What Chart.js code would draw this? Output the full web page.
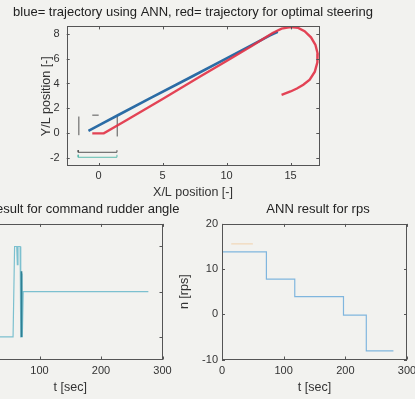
<!DOCTYPE html>
<html>
<head>
<meta charset="utf-8">
<script src="https://cdn.jsdelivr.net/npm/chart.js@4/dist/chart.umd.min.js"></script>
<style>
  html, body { margin: 0; padding: 0; }
  body { width: 415px; height: 399px; overflow: hidden; position: relative; background: #f2f2ef; }
  canvas { position: absolute; }
</style>
</head>
<body>
<canvas id="traj" width="386" height="200" style="left:0;top:0"></canvas>
<canvas id="rudder" width="280" height="204" style="left:-70px;top:195px"></canvas>
<canvas id="rps" width="296" height="204" style="left:170px;top:195px"></canvas>
<script>
// ---- trajectory (X/L, Y/L) ----
const annX = [-0.8, 0.3, 1.5, 4.0, 7.0, 10.0, 12.0, 13.4, 14.0];
const annY = [0.2, 0.8, 1.45, 2.8, 4.4, 6.02, 7.1, 7.86, 8.15];

const optX = [-0.5, 0.4, 2.0, 5.0, 8.0, 10.0, 12.0, 13.6, 14.3, 15.0, 15.6, 16.1, 16.6, 16.95, 17.12, 17.1, 16.9, 16.5, 16.0, 15.5, 15.0, 14.6, 14.3];
const optY = [0.0, 0.0, 0.95, 2.75, 4.6, 5.8, 7.02, 8.05, 8.4, 8.52, 8.46, 8.2, 7.7, 7.1, 6.4, 5.7, 4.95, 4.3, 3.9, 3.6, 3.36, 3.2, 3.08];

// start-area guide marks
const guideLeft   = [[-1.55, -0.15], [-1.55, 1.35]];
const guideRight  = [[1.45, -0.25], [1.45, 1.46]];
const guideDash   = [[-0.5, 1.46], [0.0, 1.46]];
const bracketDark = [[-1.6, -1.35], [-1.6, -1.52], [1.43, -1.52], [1.43, -1.35]];
const bracketTeal = [[-1.6, -1.72], [-1.6, -1.92], [1.43, -1.92], [1.43, -1.72]];

const trajXTicks = [0, 5, 10, 15];
const trajYTicks = [-2, 0, 2, 4, 6, 8];

// ---- command rudder angle ----
const rudderT   = [0, 57, 59.5, 63, 64, 65, 68.5, 69.5, 71, 71.5, 72, 73.5, 277];
const rudderDeg = [-20, -20, 20, 20, 12, 20, 20, -20, -20, 8, -20, 0, 0];
const rudderDarkT   = [70.6, 70.8];
const rudderDarkDeg = [9, -20];
const rudderXTicks = [0, 100, 200, 300];
const rudderYTicks = [-20, 0, 20];

// ---- propeller revolutions ----
const rpsT = [0, 72, 72, 118, 118, 197, 197, 234, 234, 278];
const rpsN = [13.8, 13.8, 7.8, 7.8, 3.9, 3.9, -0.2, -0.2, -8.1, -8.1];
const rpsOptT = [15, 50];
const rpsOptN = [15.6, 15.6];
const rpsXTicks = [0, 100, 200, 300];
const rpsYTicks = [-10, 0, 10, 20];

const FONT = "'Liberation Sans', Arial, sans-serif";
Chart.defaults.font.family = FONT;
Chart.defaults.color = '#333';

function series(xs, ys, color, width, order) {
  return { data: xs.map((x, i) => ({ x, y: ys[i] })), borderColor: color, borderWidth: width,
           pointRadius: 0, fill: false, tension: 0, order };
}
function pairs(pts, color, width, order) {
  return { data: pts.map(p => ({ x: p[0], y: p[1] })), borderColor: color, borderWidth: width,
           pointRadius: 0, fill: false, tension: 0, order };
}

function axis({ min, max, ticks, size, tickPad, title, titlePad }) {
  return {
    type: 'linear', min, max,
    afterBuildTicks: s => { s.ticks = ticks.map(v => ({ value: v })); },
    afterFit: s => {
      if (s.isHorizontal()) s.height = size; else s.width = size;
      s.paddingLeft = 0; s.paddingRight = 0; s.paddingTop = 0; s.paddingBottom = 0;
    },
    grid: { display: false, drawTicks: false },
    border: { display: false },
    ticks: { padding: tickPad, font: { size: 11 }, color: '#333', maxRotation: 0, autoSkip: false },
    title: title ? { display: true, text: title, font: { size: 12.5 }, color: '#333', padding: titlePad } : { display: false }
  };
}

// empty right-hand margin so the full-width title centres over the plot
function rightMargin(width) {
  return {
    type: 'linear', position: 'right', display: true,
    grid: { display: false, drawTicks: false }, border: { display: false },
    ticks: { display: false },
    afterFit: s => { s.width = width; s.paddingTop = 0; s.paddingBottom = 0; }
  };
}

// box frame with inward tick marks on all four sides
const frame = {
  id: 'frame',
  afterDatasetsDraw(chart) {
    const { ctx, chartArea: a, scales: { x, y } } = chart;
    const L = 3;
    ctx.save();
    ctx.strokeStyle = '#555';
    ctx.lineWidth = 1;
    ctx.strokeRect(Math.round(a.left) + 0.5, Math.round(a.top) + 0.5, Math.round(a.width) - 1, Math.round(a.height) - 1);
    ctx.beginPath();
    x.ticks.forEach(t => {
      const px = Math.round(x.getPixelForValue(t.value)) + 0.5;
      ctx.moveTo(px, a.bottom); ctx.lineTo(px, a.bottom - L);
      ctx.moveTo(px, a.top); ctx.lineTo(px, a.top + L);
    });
    y.ticks.forEach(t => {
      const py = Math.round(y.getPixelForValue(t.value)) + 0.5;
      ctx.moveTo(a.left, py); ctx.lineTo(a.left + L, py);
      ctx.moveTo(a.right, py); ctx.lineTo(a.right - L, py);
    });
    ctx.stroke();
    ctx.restore();
  }
};

function titleOpts(text, top, bottom) {
  return { display: true, text, color: '#222',
           font: { size: 13, weight: 'normal' }, padding: { top, bottom } };
}

const common = { responsive: false, animation: false, devicePixelRatio: 1, events: [] };

new Chart(document.getElementById('traj'), {
  type: 'line',
  data: { datasets: [
    series(optX, optY, 'rgba(226,52,72,0.92)', 2.4, 0),
    series(annX, annY, '#2b6ca5', 2.6, 1),
    pairs(guideLeft, '#555', 1, 2),
    pairs(guideRight, '#555', 1, 2),
    pairs(guideDash, '#555', 1, 2),
    pairs(bracketDark, '#555', 1, 2),
    pairs(bracketTeal, '#5bbcae', 1, 2)
  ] },
  options: Object.assign({}, common, {
    layout: { padding: 0 },
    scales: {
      x: axis({ min: -2.5, max: 17.25, ticks: trajXTicks, size: 34, tickPad: 3,
                title: 'X/L position [-]', titlePad: { top: 0, bottom: 0 } }),
      y: axis({ min: -2.62, max: 8.58, ticks: trajYTicks, size: 66.7, tickPad: 7,
                title: 'Y/L position [-]', titlePad: { top: 38.8, bottom: 0 } }),
      margin: rightMargin(66.7)
    },
    plugins: {
      legend: { display: false }, tooltip: { enabled: false },
      title: titleOpts('blue= trajectory using ANN, red= trajectory for optimal steering', 4.4, 6.4)
    }
  }),
  plugins: [frame]
});

new Chart(document.getElementById('rudder'), {
  type: 'line',
  data: { datasets: [
    series(rudderDarkT, rudderDarkDeg, '#2f7f93', 1.6, 0),
    series(rudderT, rudderDeg, '#7cc0cf', 1.2, 1)
  ] },
  options: Object.assign({}, common, {
    layout: { padding: 0 },
    scales: {
      x: axis({ min: 0, max: 300, ticks: rudderXTicks, size: 39.5, tickPad: 5,
                title: 't [sec]', titlePad: { top: 0, bottom: 3.8 } }),
      y: axis({ min: -30, max: 30, ticks: rudderYTicks, size: 48, tickPad: 4 }),
      margin: rightMargin(47.5)
    },
    plugins: {
      legend: { display: false }, tooltip: { enabled: false },
      title: titleOpts('ANN result for command rudder angle', 6.5, 6.8)
    }
  }),
  plugins: [frame]
});

new Chart(document.getElementById('rps'), {
  type: 'line',
  data: { datasets: [
    series(rpsOptT, rpsOptN, 'rgba(240,185,120,0.45)', 1.2, 1),
    series(rpsT, rpsN, '#80b6de', 1.2, 0)
  ] },
  options: Object.assign({}, common, {
    layout: { padding: 0 },
    scales: {
      x: axis({ min: 0, max: 300, ticks: rpsXTicks, size: 39.5, tickPad: 5,
                title: 't [sec]', titlePad: { top: 0, bottom: 3.8 } }),
      y: axis({ min: -10, max: 20, ticks: rpsYTicks, size: 52, tickPad: 4,
                title: 'n [rps]', titlePad: { top: 7.3, bottom: 0 } }),
      margin: rightMargin(59)
    },
    plugins: {
      legend: { display: false }, tooltip: { enabled: false },
      title: titleOpts('ANN result for rps', 6.5, 6.8)
    }
  }),
  plugins: [frame]
});
</script>
</body>
</html>
